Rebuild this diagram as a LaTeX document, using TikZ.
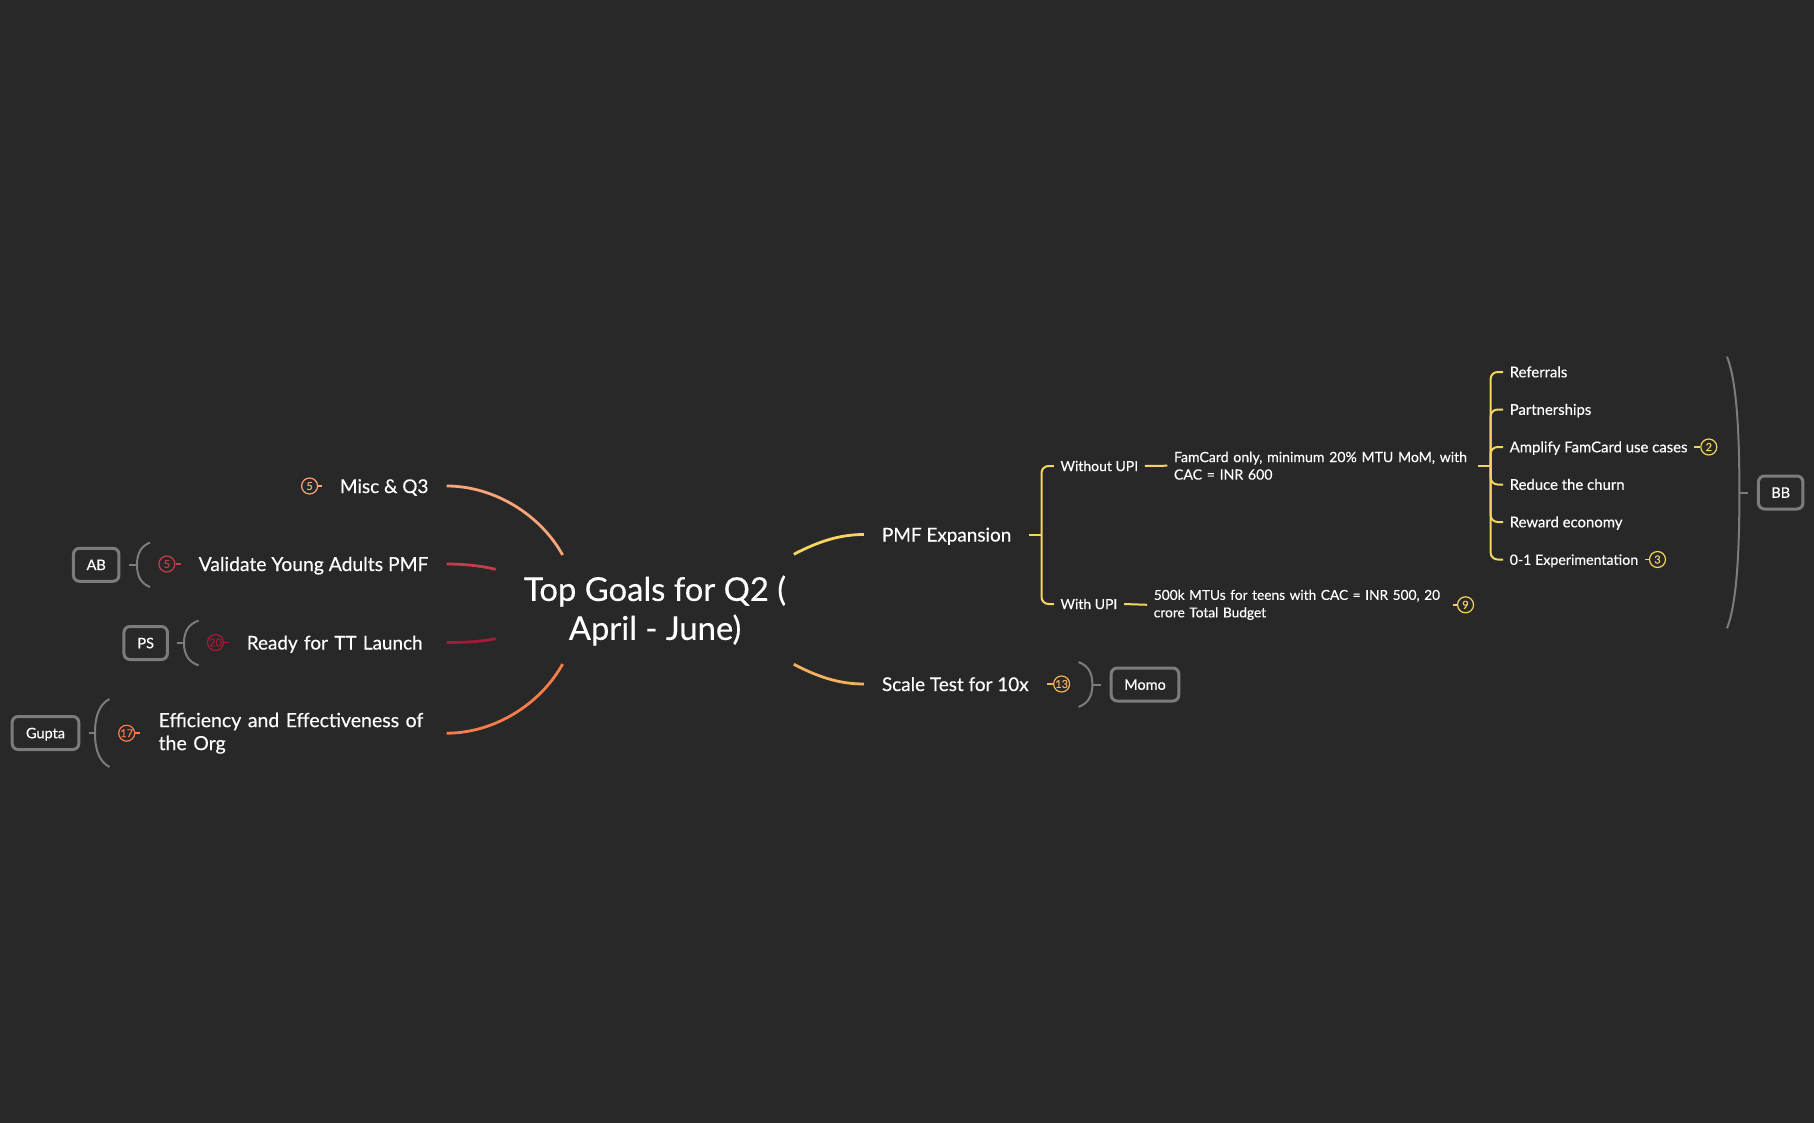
\documentclass[tikz,border=0pt]{standalone}
\usepackage{fontspec}
\setmainfont{Lato}[UprightFeatures={FakeBold=0.3}]
\usetikzlibrary{calc}

\definecolor{bgdark}{HTML}{282828}
\definecolor{foldgray}{HTML}{7C7C7C}
\definecolor{miscline}{HTML}{F9A57A}
\definecolor{validline}{HTML}{C73C4D}
\definecolor{readyline}{HTML}{A51A38}
\definecolor{effline}{HTML}{F97C4B}
\definecolor{pmfline}{HTML}{F4D560}
\definecolor{scaleline}{HTML}{F4B25E}

\tikzset{
    hubtext/.style={text=white,align=center,inner sep=0pt,font=\fontsize{32.8}{39}\selectfont},
    topic/.style={text=white,align=left,inner ysep=0pt,inner xsep=18pt,font=\fontsize{18.9}{23}\selectfont},
    oneline/.style={text height=18.2pt,text depth=4.2pt},
    leaf/.style={text=white,align=left,inner ysep=0pt,inner xsep=6.5pt,font=\fontsize{14}{17.5}\selectfont},
    listleaf/.style={leaf,text height=13.6pt,text depth=3pt,font=\fontsize{14.9}{17.5}\selectfont},
    tag/.style={draw,circle,line width=1.2pt,minimum size=16pt,inner sep=0pt,font=\fontsize{11}{11}\selectfont},
    owner/.style={draw=foldgray,rounded corners=6pt,line width=3pt,text=white,inner sep=0pt,text height=10.5pt,text depth=0pt,
        minimum height=33pt,outer xsep=10pt,font=\fontsize{14.5}{14.5}\selectfont},
    mainline/.style={line width=2.8pt},
    treeline/.style={line width=2pt,pmfline,rounded corners=7pt},
    stubline/.style={line width=1.6pt},
    foldline/.style={line width=2pt,foldgray}
}

\newcommand{\foldbrace}[3]{
    \draw[foldline] ($(#1)+(#2,-#3)$) .. controls ($(#1)+(0.35*#2,-0.85*#3)$) and ($(#1)+(0,-0.55*#3)$) .. (#1)
        .. controls ($(#1)+(0,0.55*#3)$) and ($(#1)+(0.35*#2,0.85*#3)$) .. ($(#1)+(#2,#3)$);
}

\begin{document}
\begin{tikzpicture}[x=1pt,y=-1pt]

    \useasboundingbox (0,0) rectangle (1814,1123);
    \fill[bgdark] (0,0) rectangle (1814,1123);

    %%% Hub %%%

    \node[hubtext] (hub) at (655,610.5) {Top Goals for Q2 (\\April - June)};
    \coordinate (hubnw) at (562.6,555);
    \coordinate (hubsw) at (562.6,664);
    \coordinate (hubne) at (793.8,554.3);
    \coordinate (hubse) at (793.8,664.3);
    \coordinate (hubwa) at (495.6,569.3);
    \coordinate (hubwb) at (495.6,638.7);

    %%% Left topics %%%

    \node[topic,oneline,anchor=east] (misc) at (446.6,486) {Misc \& Q3};
    \node[topic,oneline,anchor=east,font=\fontsize{19.3}{23}\selectfont] (validate) at (446.6,564) {Validate Young Adults PMF};
    \node[topic,oneline,anchor=east,text width=181.6pt] (ready) at (446.6,642.5) {Ready for TT Launch};
    \node[topic,anchor=east,text width=269.8pt,font=\fontsize{19.5}{23}\selectfont] (effic) at (446.6,733.2)
        {Efficiency and Effectiveness of\\the Org};

    \draw[mainline,miscline] (misc.east) .. controls +(48,0) and +(-22,-40) .. (hubnw);
    \draw[mainline,validline] (validate.east) .. controls +(18,0) and +(-15,-3.5) .. (hubwa);
    \draw[mainline,readyline] (ready.east) .. controls +(18,0) and +(-15,3) .. (hubwb);
    \draw[mainline,effline] (effic.east) .. controls +(48,0) and +(-22,40) .. (hubsw);

    \node[tag,miscline] (misctag) at (309.6,486) {5};
    \node[tag,validline] (validtag) at (166.9,564) {5};
    \node[tag,readyline] (readytag) at (215.5,642.5) {20};
    \node[tag,effline] (effictag) at (126.7,733.2) {17};

    \draw[stubline,miscline] (misctag.east) -- (misc.west);
    \draw[stubline,validline] (validtag.east) -- (validate.west);
    \draw[stubline,readyline] (readytag.east) -- (ready.west);
    \draw[stubline,effline] (effictag.east) -- (effic.west);

    \node[owner,minimum width=45.5pt] (ab) at (96.2,564.8) {AB};
    \node[owner,minimum width=43.5pt] (ps) at (145.7,643) {PS};
    \node[owner,minimum width=66.7pt] (gupta) at (45.5,733) {Gupta};

    \coordinate (abfold) at (137,564.8);
    \coordinate (psfold) at (184,643);
    \coordinate (guptafold) at (95,733);

    \draw[foldline] (ab.east) -- (abfold);
    \draw[foldline] (ps.east) -- (psfold);
    \draw[foldline] (gupta.east) -- (guptafold);
    \foldbrace{abfold}{13}{22.2}
    \foldbrace{psfold}{14.6}{22.4}
    \foldbrace{guptafold}{14.5}{34}

    %%% Right topics %%%

    \node[topic,oneline,anchor=west] (pmf) at (863.8,534.5) {PMF Expansion};
    \node[topic,oneline,anchor=west] (scale) at (863.8,684) {Scale Test for 10x};

    \draw[mainline,pmfline] (pmf.west) .. controls +(-24,0) and +(25,-13) .. (hubne);
    \draw[mainline,scaleline] (scale.west) .. controls +(-24,0) and +(25,13) .. (hubse);

    \node[tag,scaleline] (scaletag) at (1061.6,684) {13};
    \draw[stubline,scaleline] (scale.east) -- (scaletag.west);
    \node[owner,minimum width=67.6pt] (momo) at (1145,684.5) {Momo};
    \coordinate (momofold) at (1092.4,684.5);
    \draw[foldline] (momo.west) -- (momofold);
    \foldbrace{momofold}{-13.8}{22.4}

    %%% PMF tree %%%

    \node[leaf,anchor=west] (without) at (1053.8,466) {Without UPI};
    \node[leaf,anchor=west] (withupi) at (1053.8,604) {With UPI};
    \node[leaf,anchor=west,text width=297.5pt,font=\fontsize{14.1}{17.5}\selectfont] (famcard) at (1167.3,465.7)
        {FamCard only, minimum 20\% MTU MoM, with\\CAC = INR 600};
    \node[leaf,anchor=west,text width=292pt,font=\fontsize{13.7}{17.5}\selectfont] (teens) at (1147.1,604.8)
        {500k MTUs for teens with CAC = INR 500, 20\\crore Total Budget};

    \coordinate (pmfjoin) at (1041.5,534.5);
    \draw[treeline] (pmf.east) -- (pmfjoin);
    \draw[treeline] (pmfjoin) |- (without.west);
    \draw[treeline] (pmfjoin) |- (withupi.west);
    \draw[treeline] (without.east) -- (famcard.west);
    \draw[treeline] (withupi.east) -- (teens.west);

    \node[tag,pmfline] (teenstag) at (1465.5,604.8) {9};
    \draw[stubline,pmfline] (teens.east) -- (teenstag.west);

    \node[listleaf,anchor=west] (referrals) at (1503,372) {Referrals};
    \node[listleaf,anchor=west] (partners) at (1503,409.5) {Partnerships};
    \node[listleaf,anchor=west] (amplify) at (1503,447) {Amplify FamCard use cases};
    \node[listleaf,anchor=west] (churn) at (1503,484.5) {Reduce the churn};
    \node[listleaf,anchor=west] (reward) at (1503,522) {Reward economy};
    \node[listleaf,anchor=west,font=\fontsize{14.2}{17.5}\selectfont] (experiment) at (1503,559.5) {0-1 Experimentation};

    \coordinate (famjoin) at (1490.6,465.7);
    \draw[treeline] (famcard.east) -- (famjoin);
    \draw[treeline] (famjoin) |- (referrals.west);
    \draw[treeline] (famjoin) |- (partners.west);
    \draw[treeline] (famjoin) |- (amplify.west);
    \draw[treeline] (famjoin) |- (churn.west);
    \draw[treeline] (famjoin) |- (reward.west);
    \draw[treeline] (famjoin) |- (experiment.west);

    \node[tag,pmfline] (amplifytag) at (1708.8,447) {2};
    \node[tag,pmfline] (experimenttag) at (1657.5,559.5) {3};
    \draw[stubline,pmfline] (amplify.east) -- (amplifytag.west);
    \draw[stubline,pmfline] (experiment.east) -- (experimenttag.west);

    \node[owner,minimum width=44.5pt] (bb) at (1780.7,492.5) {BB};
    \coordinate (bbfold) at (1739.4,492.5);
    \draw[foldline] (bb.west) -- (bbfold);
    \foldbrace{bbfold}{-12.4}{135.8}

\end{tikzpicture}
\end{document}
